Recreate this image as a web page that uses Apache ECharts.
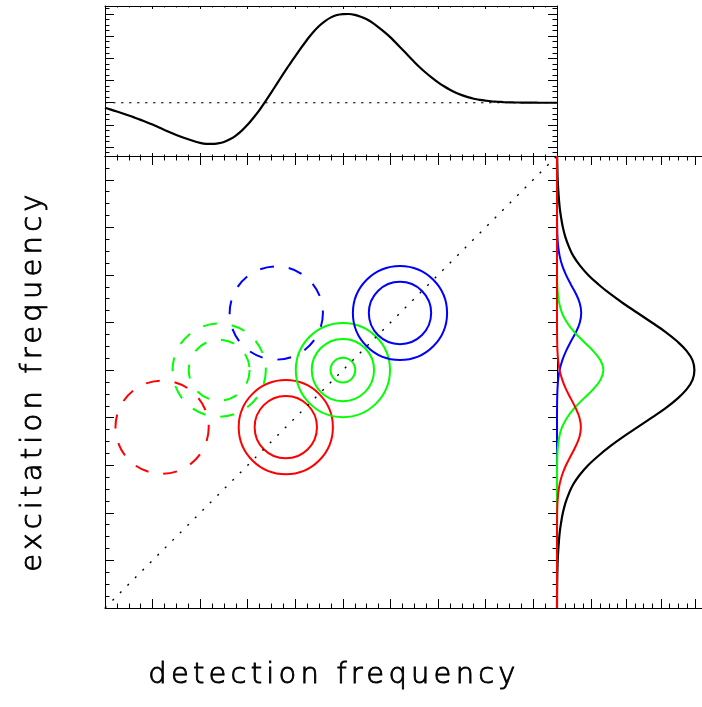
<!DOCTYPE html>
<html>
<head>
<meta charset="utf-8">
<script src="https://cdn.jsdelivr.net/npm/echarts@6/dist/echarts.min.js"></script>
<style>
  html, body { margin: 0; padding: 0; background: #ffffff; }
  #chart { width: 702px; height: 707px; }
</style>
</head>
<body>
<div id="chart"></div>
<script>
// ---- axis titles ----
const detectionTitle = 'detection frequency';
const excitationTitle = 'excitation frequency';

// ---- projection onto the detection axis (top panel) ----
const detectionGrid = [0, 0.125, 0.25, 0.375, 0.5, 0.625, 0.75, 0.875, 1, 1.125, 1.25, 1.375, 1.5, 1.625,
  1.75, 1.875, 2, 2.125, 2.25, 2.375, 2.5, 2.625, 2.75, 2.875, 3, 3.125, 3.25, 3.375, 3.5, 3.625, 3.75,
  3.875, 4, 4.125, 4.25, 4.375, 4.5, 4.625, 4.75, 4.875, 5, 5.125, 5.25, 5.375, 5.5, 5.625, 5.75, 5.875,
  6, 6.125, 6.25, 6.375, 6.5, 6.625, 6.75, 6.875, 7, 7.125, 7.25, 7.375, 7.5, 7.625, 7.75, 7.875, 8,
  8.125, 8.25, 8.375, 8.5, 8.625, 8.75, 8.875, 9, 9.125, 9.25, 9.375, 9.5];
const detectionProjection = [-0.057, -0.078, -0.099, -0.121, -0.144, -0.168, -0.193, -0.219, -0.246,
  -0.276, -0.306, -0.335, -0.363, -0.389, -0.412, -0.434, -0.452, -0.463, -0.464, -0.457, -0.442, -0.412,
  -0.370, -0.314, -0.246, -0.166, -0.080, 0.018, 0.120, 0.224, 0.328, 0.428, 0.524, 0.620, 0.713, 0.795,
  0.864, 0.920, 0.962, 0.988, 0.999, 1.000, 0.990, 0.969, 0.940, 0.899, 0.849, 0.795, 0.736, 0.669,
  0.600, 0.530, 0.460, 0.395, 0.335, 0.280, 0.230, 0.186, 0.147, 0.114, 0.086, 0.063, 0.045, 0.032,
  0.023, 0.016, 0.011, 0.007, 0.004, 0.003, 0.002, 0.001, 0.001, 0, 0, 0, 0];

// ---- projections onto the excitation axis (right panel) ----
const excitationGrid = [0, 0.2, 0.4, 0.6, 0.8, 1.0, 1.2, 1.4, 1.6, 1.8, 2.0, 2.2, 2.4, 2.6, 2.8, 3.0, 3.2,
  3.4, 3.6, 3.8, 4.0, 4.2, 4.4, 4.6, 4.8, 5.0, 5.2, 5.4, 5.6, 5.8, 6.0, 6.2, 6.4, 6.6, 6.8, 7.0, 7.2, 7.4,
  7.6, 7.8, 8.0, 8.2, 8.4, 8.6, 8.8, 9.0, 9.2, 9.4, 9.5];
const totalExcitation = [0, 0.001, 0.003, 0.006, 0.012, 0.02, 0.035, 0.055, 0.08, 0.12, 0.17, 0.24, 0.34,
  0.47, 0.66, 0.90, 1.20, 1.54, 1.92, 2.33, 2.74, 3.14, 3.48, 3.75, 3.92, 3.97, 3.92, 3.75, 3.48, 3.14,
  2.74, 2.33, 1.92, 1.54, 1.20, 0.90, 0.66, 0.47, 0.34, 0.24, 0.17, 0.12, 0.08, 0.055, 0.035, 0.02,
  0.012, 0.006, 0.004];
const redExcitation = [0, 0, 0, 0, 0, 0, 0, 0, 0, 0.0015, 0.005, 0.013, 0.034, 0.075, 0.15, 0.26, 0.40,
  0.54, 0.65, 0.69, 0.65, 0.54, 0.40, 0.26, 0.15, 0.075, 0.034, 0.013, 0.005, 0.0015, 0, 0, 0, 0, 0, 0,
  0, 0, 0, 0, 0, 0, 0, 0, 0, 0, 0, 0, 0];
const greenExcitation = [0, 0, 0, 0, 0, 0, 0, 0, 0, 0, 0, 0, 0, 0, 0, 0.003, 0.009, 0.026, 0.066, 0.146,
  0.29, 0.50, 0.77, 1.05, 1.26, 1.34, 1.26, 1.05, 0.77, 0.50, 0.29, 0.146, 0.066, 0.026, 0.009, 0.003,
  0, 0, 0, 0, 0, 0, 0, 0, 0, 0, 0, 0, 0];
const blueExcitation = [0, 0, 0, 0, 0, 0, 0, 0, 0, 0, 0, 0, 0, 0, 0, 0, 0, 0, 0, 0, 0, 0.0015, 0.005,
  0.014, 0.034, 0.076, 0.15, 0.26, 0.40, 0.55, 0.66, 0.70, 0.66, 0.55, 0.40, 0.26, 0.15, 0.076, 0.034,
  0.014, 0.005, 0.0015, 0, 0, 0, 0, 0, 0, 0];

// ---- 2D peaks: diagonal (solid) and cross peaks (dashed) ----
const peakColors = ['#ff0000', '#00ff00', '#0000ff'];
const diagonalX = [3.8, 5.0, 6.2];
const diagonalY = [3.8, 5.0, 6.2];
const diagonalRadii = [[0.99, 0.655], [0.99, 0.655, 0.26], [0.99, 0.655]];
const crossX = [1.2, 2.4, 3.6];
const crossY = [3.8, 5.0, 6.2];
const crossRadii = [[0.98], [0.98, 0.64], [0.98]];
const diagonalGuide = [[0, 0], [9.5, 9.5]];
const zeroGuide = [[0, 0], [9.5, 0]];

// ---- axis ranges and tick values ----
const freqRange = [0, 9.5];
const projRange = [-0.6, 1.09];
const ampRange = [0, 4.19];
const freqMajor = [0, 1, 2, 3, 4, 5, 6, 7, 8, 9];
const projMajor = [-0.5, -0.25, 0, 0.25, 0.5, 0.75, 1.0];
const ampMajor = [0, 1, 2, 3, 4];

function minorTicks(major, step, lo, hi) {
  const out = [];
  for (let k = Math.ceil(lo / step - 1e-9); k * step <= hi + 1e-9; k++) {
    const v = Math.round(k * step * 1e6) / 1e6;
    if (!major.some(function (m) { return Math.abs(m - v) < 1e-6; })) out.push(v);
  }
  return out;
}
const freqMinor = minorTicks(freqMajor, 0.25, freqRange[0], freqRange[1] - 0.01);
const projMinor = minorTicks(projMajor, 0.0625, projRange[0], projRange[1]);
const ampMinor = minorTicks(ampMajor, 0.25, ampRange[0], ampRange[1]);

function zip(a, b) { return a.map(function (v, i) { return [v, b[i]]; }); }

const LINE = '#000000';
function tickAxis(gridIndex, position, range, ticks, len, showLine) {
  return {
    type: 'value', gridIndex: gridIndex, position: position,
    min: range[0], max: range[1],
    axisLine: { show: showLine, onZero: false, lineStyle: { color: LINE, width: 1 } },
    axisTick: { show: true, inside: true, length: len, customValues: ticks,
      lineStyle: { color: LINE, width: 1 } },
    axisLabel: { show: false },
    splitLine: { show: false },
    minorTick: { show: false },
    silent: true
  };
}

// circle records for the custom series
const circleData = [];
diagonalX.forEach(function (x, i) {
  diagonalRadii[i].forEach(function (r) { circleData.push([x, diagonalY[i], r, i, 0]); });
});
crossX.forEach(function (x, i) {
  crossRadii[i].forEach(function (r) { circleData.push([x, crossY[i], r, i, 1]); });
});

const MAIN = { left: 105, top: 156, width: 452, height: 452 };
const TITLE_FONT = '200 29px "DejaVu Sans"';
const TITLE_SPACING = '4.2px';

const option = {
  animation: false,
  backgroundColor: '#ffffff',
  grid: [
    { left: MAIN.left, top: MAIN.top, width: MAIN.width, height: MAIN.height, outerBoundsMode: 'none' },
    { left: MAIN.left, top: 6, width: MAIN.width, height: MAIN.top - 6, outerBoundsMode: 'none' },
    { left: MAIN.left + MAIN.width, top: MAIN.top, width: 145, height: MAIN.height, outerBoundsMode: 'none' }
  ],
  xAxis: [
    tickAxis(0, 'bottom', freqRange, freqMajor, 9, true),
    tickAxis(0, 'bottom', freqRange, freqMinor, 4.5, false),
    tickAxis(0, 'top', freqRange, freqMajor, 9, true),
    tickAxis(0, 'top', freqRange, freqMinor, 4.5, false),
    tickAxis(1, 'bottom', freqRange, freqMajor, 3, true),
    tickAxis(1, 'bottom', freqRange, freqMinor, 1.5, false),
    tickAxis(1, 'top', freqRange, freqMajor, 3, true),
    tickAxis(1, 'top', freqRange, freqMinor, 1.5, false),
    tickAxis(2, 'bottom', ampRange, ampMajor, 9, true),
    tickAxis(2, 'bottom', ampRange, ampMinor, 4.5, false),
    tickAxis(2, 'top', ampRange, ampMajor, 9, true),
    tickAxis(2, 'top', ampRange, ampMinor, 4.5, false)
  ],
  yAxis: [
    tickAxis(0, 'left', freqRange, freqMajor, 9, true),
    tickAxis(0, 'left', freqRange, freqMinor, 4.5, false),
    tickAxis(0, 'right', freqRange, freqMajor, 9, true),
    tickAxis(0, 'right', freqRange, freqMinor, 4.5, false),
    tickAxis(1, 'left', projRange, projMajor, 9, true),
    tickAxis(1, 'left', projRange, projMinor, 4.5, false),
    tickAxis(1, 'right', projRange, projMajor, 9, true),
    tickAxis(1, 'right', projRange, projMinor, 4.5, false),
    { type: 'value', gridIndex: 2, min: freqRange[0], max: freqRange[1], show: false }
  ],
  series: [
    {
      type: 'line', xAxisIndex: 0, yAxisIndex: 0, data: diagonalGuide,
      showSymbol: false, silent: true, clip: false,
      lineStyle: { color: LINE, width: 1.4, type: [2, 8.6] }
    },
    {
      type: 'custom', xAxisIndex: 0, yAxisIndex: 0, data: circleData,
      encode: { x: 0, y: 1 }, silent: true, clip: false,
      renderItem: function (params, api) {
        const c = api.coord([api.value(0), api.value(1)]);
        const r = api.size([api.value(2), 0])[0];
        const dashed = api.value(4) === 1;
        return {
          type: 'circle',
          shape: { cx: c[0], cy: c[1], r: r },
          style: { fill: 'none', stroke: peakColors[api.value(3)], lineWidth: 2,
            lineDash: dashed ? [14, 15] : null }
        };
      }
    },
    {
      type: 'line', xAxisIndex: 4, yAxisIndex: 4, data: zeroGuide,
      showSymbol: false, silent: true, clip: false,
      lineStyle: { color: LINE, width: 1.2, type: [2.5, 5.5] }
    },
    {
      type: 'line', xAxisIndex: 4, yAxisIndex: 4, data: zip(detectionGrid, detectionProjection),
      showSymbol: false, silent: true, smooth: 0.2, clip: false,
      lineStyle: { color: LINE, width: 2.2 }
    },
    {
      type: 'line', xAxisIndex: 8, yAxisIndex: 8, data: zip(totalExcitation, excitationGrid),
      showSymbol: false, silent: true, smooth: 0.4, clip: false,
      lineStyle: { color: LINE, width: 2.2 }
    },
    {
      type: 'line', xAxisIndex: 8, yAxisIndex: 8, data: zip(blueExcitation, excitationGrid),
      showSymbol: false, silent: true, smooth: 0.4, clip: false,
      lineStyle: { color: peakColors[2], width: 2 }
    },
    {
      type: 'line', xAxisIndex: 8, yAxisIndex: 8, data: zip(greenExcitation, excitationGrid),
      showSymbol: false, silent: true, smooth: 0.4, clip: false,
      lineStyle: { color: peakColors[1], width: 2 }
    },
    {
      type: 'line', xAxisIndex: 8, yAxisIndex: 8, data: zip(redExcitation, excitationGrid),
      showSymbol: false, silent: true, smooth: 0.4, clip: false,
      lineStyle: { color: peakColors[0], width: 2 }
    }
  ],
  graphic: [
    {
      type: 'text', x: 334, y: 675, silent: true,
      style: { text: detectionTitle, fill: '#000', stroke: '#000', lineWidth: 0.9, font: TITLE_FONT,
        align: 'center', verticalAlign: 'middle', textAlign: 'center', textVerticalAlign: 'middle' }
    },
    {
      type: 'text', x: 33, y: 381, rotation: Math.PI / 2, silent: true,
      style: { text: excitationTitle, fill: '#000', stroke: '#000', lineWidth: 0.9, font: TITLE_FONT,
        align: 'center', verticalAlign: 'middle', textAlign: 'center', textVerticalAlign: 'middle' }
    }
  ]
};

const chart = echarts.init(document.getElementById('chart'), null, { renderer: 'canvas' });
chart.setOption(option);

// zrender has no letter-spacing style, so open up the title lettering on the canvas itself
(function widenTitles() {
  const zr = chart.getZr();
  const painter = zr && zr.painter;
  if (!painter || !painter.getLayers) return;
  const layers = painter.getLayers();
  let applied = false;
  Object.keys(layers).forEach(function (key) {
    const ctx = layers[key].ctx;
    if (ctx && 'letterSpacing' in ctx) { ctx.letterSpacing = TITLE_SPACING; applied = true; }
  });
  if (applied) painter.refresh(true);
})();
</script>
</body>
</html>
